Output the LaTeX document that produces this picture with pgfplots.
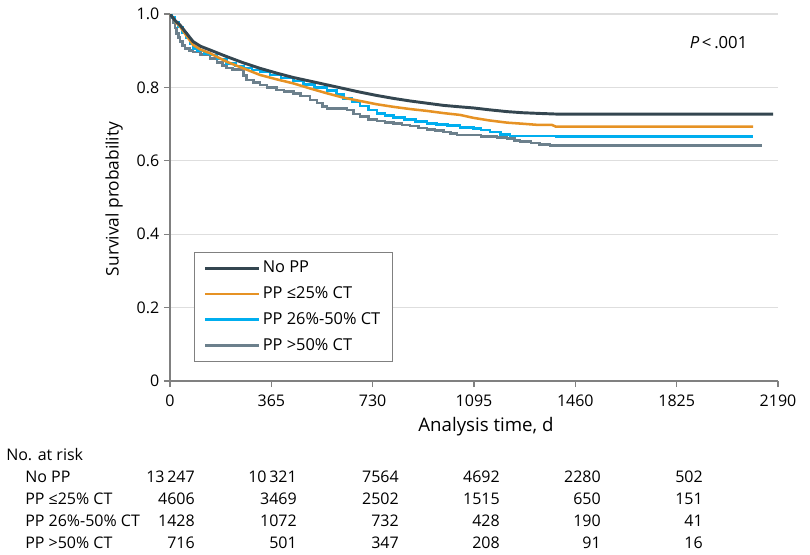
\documentclass[border=0pt]{standalone}
\usepackage{pgfplots}
\pgfplotsset{compat=1.18}
\usepackage{fontspec}
\setmainfont{Open Sans}

\definecolor{cNone}{RGB}{52,70,80}
\definecolor{cLow}{RGB}{230,146,36}
\definecolor{cMid}{RGB}{0,174,239}
\definecolor{cHigh}{RGB}{108,128,140}
\definecolor{axisgray}{RGB}{128,128,128}

\begin{document}
\begin{tikzpicture}[x=0.75pt,y=0.75pt]
% canvas: origin at the lower left corner of the axis box, 1 unit = 1 px
\useasboundingbox (-170,-173) rectangle (640,381);
\begin{axis}[
  at={(0,0)}, anchor=south west,
  scale only axis, width=456pt, height=275.25pt,
  xmin=0, xmax=2190, ymin=0, ymax=1,
  axis x line*=bottom, axis y line*=left,
  axis line style={axisgray, line width=1.1pt, -},
  tick style={axisgray, line width=1pt},
  tick align=outside, major tick length=4.5pt,
  xtick={0,365,730,1095,1460,1825,2190},
  xticklabels={0,365,730,1095,1460,1825,2190},
  ytick={0,0.2,0.4,0.6,0.8,1},
  yticklabels={0,0.2,0.4,0.6,0.8,1.0},
  ymajorgrids, grid style={black!13, line width=0.9pt},
  ticklabel style={font=\fontsize{12}{14}\selectfont},
  xticklabel style={yshift=-2.5pt},
  legend style={at={(rel axis cs:0.0395,0.3515)}, anchor=north west,
    draw=axisgray, line width=0.8pt, font=\fontsize{12.3}{14}\selectfont,
    inner xsep=7pt, inner ysep=4.5pt, row sep=5pt},
  legend cell align=left,
  legend image code/.code={\draw[#1] (0pt,0pt) -- (40pt,0pt);},
  reverse legend,
]
% PP >50% CT
\addplot[const plot, color=cHigh, line width=1.9pt] coordinates {
(0,1)(5,0.99)(12,0.975)(18,0.962)(24,0.947)(30,0.936)(36,0.925)(45,0.914)
(54,0.906)(70,0.901)(83,0.897)(110,0.890)(144,0.879)(170,0.868)(190,0.860)
(204,0.853)(225,0.849)(252,0.847)(265,0.832)(276,0.820)(300,0.813)(324,0.807)
(350,0.800)(384,0.793)(410,0.789)(444,0.784)(470,0.776)(504,0.766)(530,0.757)
(550,0.748)(565,0.743)(637,0.738)(660,0.728)(685,0.720)(715,0.713)(745,0.709)
(775,0.705)(805,0.702)(835,0.698)(865,0.695)(895,0.690)(925,0.686)(955,0.682)
(985,0.679)(1010,0.675)(1033,0.670)(1120,0.666)(1177,0.664)(1214,0.661)
(1240,0.656)(1261,0.652)(1300,0.648)(1330,0.645)(1369,0.641)(2132,0.641)};
\addlegendentry{PP >50\% CT}
% PP 26%-50% CT
\addplot[const plot, color=cMid, line width=1.9pt] coordinates {
(0,1)(8,0.99)(18,0.978)(30,0.965)(45,0.948)(60,0.934)(72,0.920)(83,0.906)
(100,0.899)(125,0.893)(144,0.888)(170,0.877)(204,0.865)(235,0.858)(264,0.853)
(295,0.848)(324,0.843)(360,0.834)(400,0.826)(444,0.817)(480,0.808)(520,0.800)
(565,0.791)(600,0.780)(625,0.770)(655,0.760)(685,0.749)(715,0.739)(745,0.729)
(775,0.723)(805,0.718)(845,0.712)(885,0.707)(925,0.702)(960,0.699)(1000,0.696)
(1045,0.691)(1093,0.688)(1120,0.684)(1153,0.679)(1190,0.672)(1225,0.668)
(1390,0.666)(2100,0.666)};
\addlegendentry{PP 26\%-50\% CT}
% PP <=25% CT
\addplot[color=cLow, line width=1.9pt] coordinates {
(0,1)(10,0.99)(20,0.979)(36,0.966)(60,0.940)(83,0.916)(110,0.903)(144,0.893)
(204,0.870)(264,0.852)(324,0.834)(384,0.822)(444,0.811)(505,0.797)(565,0.784)
(625,0.772)(685,0.763)(745,0.754)(805,0.747)(865,0.741)(925,0.736)(985,0.730)
(1045,0.725)(1093,0.717)(1150,0.710)(1214,0.704)(1270,0.701)(1322,0.698)
(1375,0.698)(1390,0.693)(2100,0.693)};
\addlegendentry{PP ≤25\% CT}
% No PP
\addplot[color=cNone, line width=2.2pt] coordinates {
(0,1)(10,0.99)(20,0.981)(36,0.970)(60,0.947)(83,0.925)(110,0.912)(144,0.902)
(204,0.884)(264,0.867)(324,0.852)(384,0.839)(444,0.827)(505,0.817)(565,0.807)
(625,0.797)(685,0.787)(745,0.778)(805,0.770)(865,0.763)(925,0.757)(985,0.751)
(1045,0.747)(1093,0.744)(1150,0.739)(1214,0.734)(1270,0.731)(1333,0.729)
(1405,0.727)(2172,0.727)};
\addlegendentry{No PP}
\end{axis}

% p-value and axis titles
\node[anchor=east, font=\fontsize{12.5}{14}\selectfont] at (582,338) {\textit{P}\,<\,.001};
\node[anchor=base, font=\fontsize{14}{16}\selectfont] at (316,-50) {Analysis time, d};
\node[rotate=90, font=\fontsize{13}{16}\selectfont] at (-56,182) {Survival probability};

% number at risk
\begin{scope}[every node/.style={font=\fontsize{12}{15}\selectfont, inner sep=0pt, text height=9.5pt, text depth=2.5pt}]
\node[anchor=west] at (-164,-75) {No. at risk};
\foreach \lab/\yy in {No PP/-97, PP ≤25\% CT/-119, PP 26\%-50\% CT/-141, PP >50\% CT/-163}
  \node[anchor=west] at (-145,\yy) {\lab};
\foreach \a/\b/\c/\d/\e/\f [count=\i] in {
    13\,247/10\,321/7564/4692/2280/502,
    4606/3469/2502/1515/650/151,
    1428/1072/732/428/190/41,
    716/501/347/208/91/16} {
  \pgfmathsetmacro{\yy}{-75-22*\i}
  \node[anchor=east] at (25,\yy) {\a};
  \node[anchor=east] at (127,\yy) {\b};
  \node[anchor=east] at (229,\yy) {\c};
  \node[anchor=east] at (330,\yy) {\d};
  \node[anchor=east] at (431,\yy) {\e};
  \node[anchor=east] at (533,\yy) {\f};
}
\end{scope}
\end{tikzpicture}
\end{document}
